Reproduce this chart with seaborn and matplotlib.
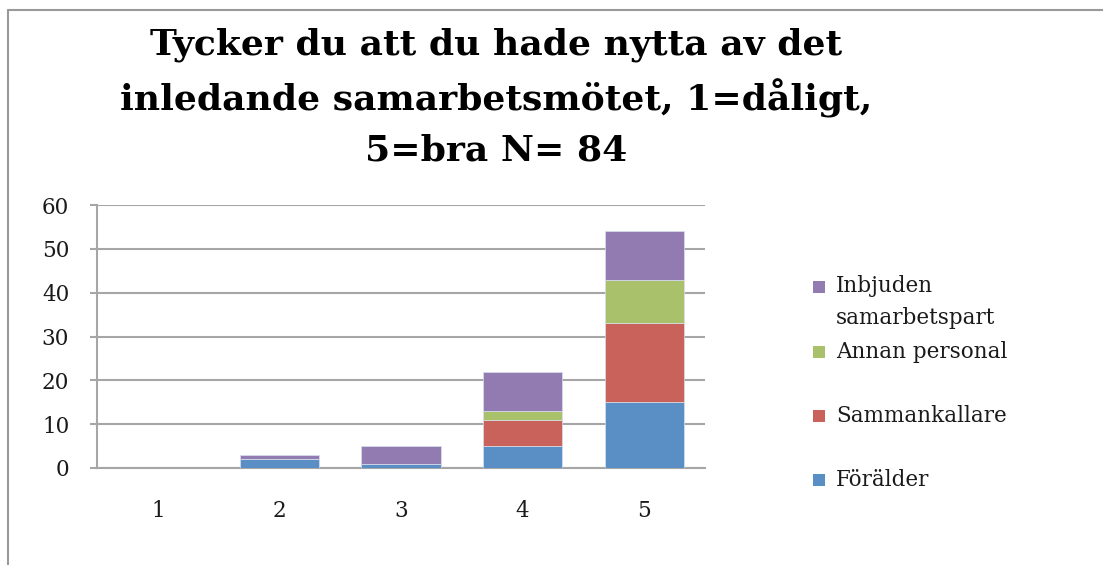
import numpy as np
import pandas as pd
import matplotlib
matplotlib.use("Agg")
import matplotlib.pyplot as plt
import seaborn as sns
from matplotlib.patches import Rectangle
from matplotlib.lines import Line2D

categories = ["1", "2", "3", "4", "5"]
foralder = [0, 2, 1, 5, 15]
sammankallare = [0, 0, 0, 6, 18]
annan_personal = [0, 0, 0, 2, 10]
inbjuden = [0, 1, 4, 9, 11]
series_names = ["Förälder", "Sammankallare", "Annan personal", "Inbjuden\nsamarbetspart"]
series_values = [foralder, sammankallare, annan_personal, inbjuden]
colors = ["#5A8FC6", "#C9625A", "#A8C16A", "#917BB1"]
yticks = [0, 10, 20, 30, 40, 50, 60]
title = "Tycker du att du hade nytta av det\ninledande samarbetsmötet, 1=dåligt,\n5=bra N= 84"

sns.set_theme(style="white")
plt.rcParams['font.family'] = ['DejaVu Serif']

W, H = 1103, 565
fig = plt.figure(figsize=(W / 100, H / 100), dpi=100)
ax = fig.add_axes([97 / W, 1 - 468 / H, (705 - 97) / W, (468 - 205) / H])

bottom = np.zeros(len(categories))
for name, vals, col in zip(series_names, series_values, colors):
    df = pd.DataFrame({"cat": categories, "val": vals})
    sns.barplot(data=df, x="cat", y="val", order=categories, color=col,
                bottom=bottom.copy(), width=0.65, ax=ax, saturation=1,
                edgecolor="#d8e0ee", linewidth=0.5, zorder=3)
    bottom += np.array(vals)

ax.set_ylim(0, 60)
ax.set_xlim(-0.5, 4.5)
ax.set_yticks(yticks)
ax.set_yticklabels([str(t) for t in yticks], fontsize=15.5)
ax.set_xlabel("")
ax.set_ylabel("")
ax.tick_params(axis="x", length=0, pad=23, labelsize=15.5)
ax.tick_params(axis="y", length=5, width=1.5, color="#a6a6a6", direction="out", pad=15, left=True)
ax.yaxis.grid(True, color="#a6a6a6", linewidth=1.5, zorder=0)
ax.set_axisbelow(True)
for s in ["top", "right"]:
    ax.spines[s].set_visible(False)
for s in ["left", "bottom"]:
    ax.spines[s].set_visible(True)
    ax.spines[s].set_color("#a6a6a6")
    ax.spines[s].set_linewidth(1.5)
for lbl in ax.get_yticklabels():
    lbl.set_horizontalalignment("right")
    lbl.set_color("#1a1a1a")
for lbl in ax.get_xticklabels():
    lbl.set_color("#1a1a1a")

fig.text(496 / W, 1 - 27 / H, title, ha="center", va="top", fontsize=26,
         fontweight="bold", linespacing=1.55, color="black")

# legend (manual, matching reference placement)
leg_y = [480, 416, 352, 287]
for name, col, y in zip(series_names, colors, leg_y):
    fig.patches.append(Rectangle((813 / W, 1 - (y + 6) / H), 12 / W, 12 / H,
                                 transform=fig.transFigure, facecolor=col,
                                 edgecolor="none"))
    if "\n" in name:
        fig.text(836 / W, 1 - (y - 12) / H, name, ha="left", va="top",
                 fontsize=15.5, color="#1a1a1a", linespacing=1.6)
    else:
        fig.text(836 / W, 1 - y / H, name, ha="left", va="center",
                 fontsize=15.5, color="#1a1a1a")

# outer frame lines
fig.add_artist(Line2D([8 / W, 1], [1 - 10 / H, 1 - 10 / H], transform=fig.transFigure,
                      color="#999999", linewidth=1.5))
fig.add_artist(Line2D([8 / W, 8 / W], [0, 1 - 10 / H], transform=fig.transFigure,
                      color="#999999", linewidth=1.5))

fig.savefig("out.png", dpi=100)
